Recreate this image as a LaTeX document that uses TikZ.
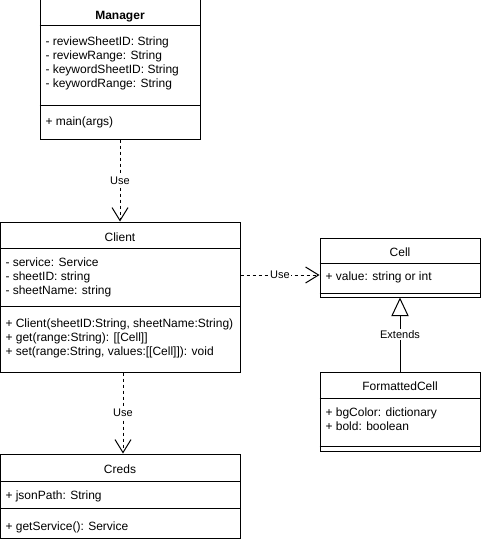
\documentclass[tikz,border=0pt]{standalone}
\usepackage{fontspec}
\setmainfont{Liberation Sans}
\usetikzlibrary{arrows.meta,fit}
\begin{document}
\begin{tikzpicture}[x=0.75pt,y=-0.75pt,line width=0.75pt,
  classbox/.style={draw,inner sep=0pt},
  txt/.style={anchor=base west,inner sep=0pt,font=\fontsize{9}{11}\selectfont},
  ttl/.style={anchor=base,inner sep=0pt,font=\fontsize{9}{11}\selectfont},
  dep/.style={dash pattern=on 2.25pt off 2.25pt,-{Straight Barb[length=9.75pt,width=12pt]}},
  ext/.style={-{Triangle[open,length=14pt,width=13pt,fill=white]}},
  lbl/.style={fill=white,inner sep=1pt,font=\fontsize{8.25}{10}\selectfont}]
\useasboundingbox (0,0) rectangle (481,542);

% Manager
\node[classbox,fit={(40,0) (200,139)}] (manager) {};
\draw (manager.west |- 0,26) -- (manager.east |- 0,26);
\draw (manager.west |- 0,105) -- (manager.east |- 0,105);
\node[ttl,font=\fontsize{9}{11}\selectfont\bfseries] (mt) at (120,19.5) {Manager};
\node[txt] (ma1) at (45,45.5) {- reviewSheetID: String};
\node[txt] (ma2) at (45,59.5) {- reviewRange: String};
\node[txt] (ma3) at (45,73.5) {- keywordSheetID: String};
\node[txt] (ma4) at (45,87.5) {- keywordRange: String};
\node[txt] (mm1) at (45,125.5) {+ main(args)};

% Client
\node[classbox,fit={(0,222) (240,372)}] (client) {};
\draw (client.west |- 0,248) -- (client.east |- 0,248);
\draw (client.west |- 0,306) -- (client.east |- 0,306);
\node[ttl] (ct) at (120,241) {Client};
\node[txt] (ca1) at (5,266) {- service: Service};
\node[txt] (ca2) at (5,280) {- sheetID: string};
\node[txt] (ca3) at (5,294) {- sheetName: string};
\node[txt] (cm1) at (5,327.5) {+ Client(sheetID:String, sheetName:String)};
\node[txt] (cm2) at (5,341.5) {+ get(range:String): [[Cell]]};
\node[txt] (cm3) at (5,355.5) {+ set(range:String, values:[[Cell]]): void};

% Cell
\node[classbox,fit={(320,238) (480,297)}] (cell) {};
\draw (cell.west |- 0,263) -- (cell.east |- 0,263);
\draw (cell.west |- 0,293) -- (cell.east |- 0,293);
\node[ttl] (cellt) at (400,256.5) {Cell};
\node[txt] (cella1) at (325,280.5) {+ value: string or int};

% FormattedCell
\node[classbox,fit={(320,372) (480,451)}] (fcell) {};
\draw (fcell.west |- 0,398) -- (fcell.east |- 0,398);
\draw (fcell.west |- 0,446) -- (fcell.east |- 0,446);
\node[ttl] (fct) at (400,390) {FormattedCell};
\node[txt] (fca1) at (325,416) {+ bgColor: dictionary};
\node[txt] (fca2) at (325,430) {+ bold: boolean};

% Creds
\node[classbox,fit={(0,454) (240,538)}] (creds) {};
\draw (creds.west |- 0,481) -- (creds.east |- 0,481);
\draw (creds.west |- 0,508) -- (creds.east |- 0,508);
\node[ttl] (crt) at (120,473) {Creds};
\node[txt] (cra1) at (5,499) {+ jsonPath: String};
\node[txt] (crm1) at (5,530) {+ getService(): Service};

% connectors
\coordinate (usey) at (0,275);
\draw[dep] (manager.south) -- node[lbl] {Use} (client.north);
\draw[dep] ([xshift=2.25pt]client.south) -- node[lbl] {Use} ([xshift=2.25pt]creds.north);
\draw[dep] (client.east |- usey) -- node[lbl] {Use} (cell.west |- usey);
\draw[ext] (fcell.north) -- node[lbl] {Extends} (cell.south);
\end{tikzpicture}
\end{document}
